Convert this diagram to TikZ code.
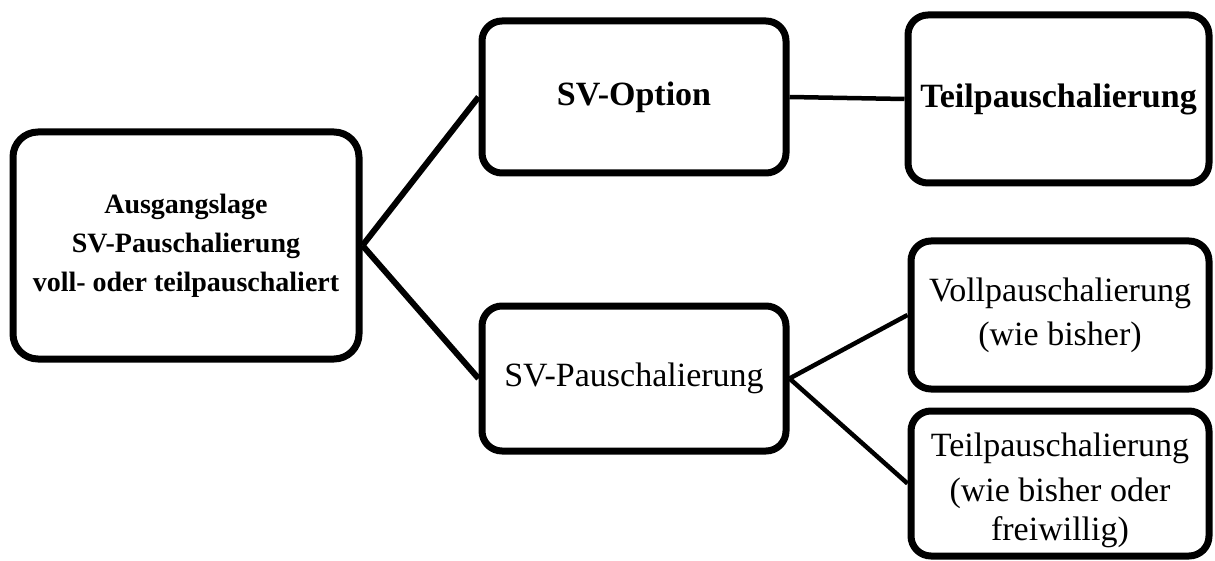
\documentclass[tikz,border=0pt]{standalone}
\usepackage{fontspec}
\setmainfont{Liberation Serif}
\begin{document}
\begin{tikzpicture}[x=1pt,y=-1pt,
  box/.style={draw=black, line width=7pt, rounded corners=20pt, fill=white,
    align=center, inner sep=0pt, font=\fontsize{34}{44}\selectfont},
  link/.style={draw=black, line width=4.5pt},
  linkthick/.style={draw=black, line width=6pt}]
\useasboundingbox (0,0) rectangle (1215,561);

% boxes
\node[box, rounded corners=25pt, minimum width=346pt, minimum height=227pt,
  font=\fontsize{28}{39}\selectfont\bfseries] (start) at (186,245.5)
  {Ausgangslage\\SV-Pauschalierung\\voll- oder teilpauschaliert};
\node[box, minimum width=304pt, minimum height=152pt,
  font=\fontsize{34}{44}\selectfont\bfseries] (opt) at (634,97) {SV-Option};
\node[box, minimum width=301pt, minimum height=168pt,
  font=\fontsize{34}{44}\selectfont\bfseries] (teiltop) at (1058.5,99) {Teilpauschalierung};
\node[box, minimum width=304pt, minimum height=145pt] (pausch) at (634,378.5) {SV-Pauschalierung};
\node[box, minimum width=298pt, minimum height=148pt] (voll) at (1060,315)
  {Vollpauschalierung\\(wie bisher)};
\node[box, minimum width=298pt, minimum height=145pt] (teil) at (1060,483.5) {};
\node[align=center, inner sep=0pt, font=\fontsize{34}{39}\selectfont] (teiltext)
  at ([yshift=-7pt]teil.center) {Teilpauschalierung\\[6pt](wie bisher oder\\freiwillig)};

% connectors
\draw[linkthick] (start.east) -- (opt.west);
\draw[linkthick] (start.east) -- (pausch.west);
\draw[link] (opt.east) -- (teiltop.west);
\draw[link] (pausch.east) -- (voll.west);
\draw[link] (pausch.east) -- (teil.west);
\end{tikzpicture}
\end{document}
